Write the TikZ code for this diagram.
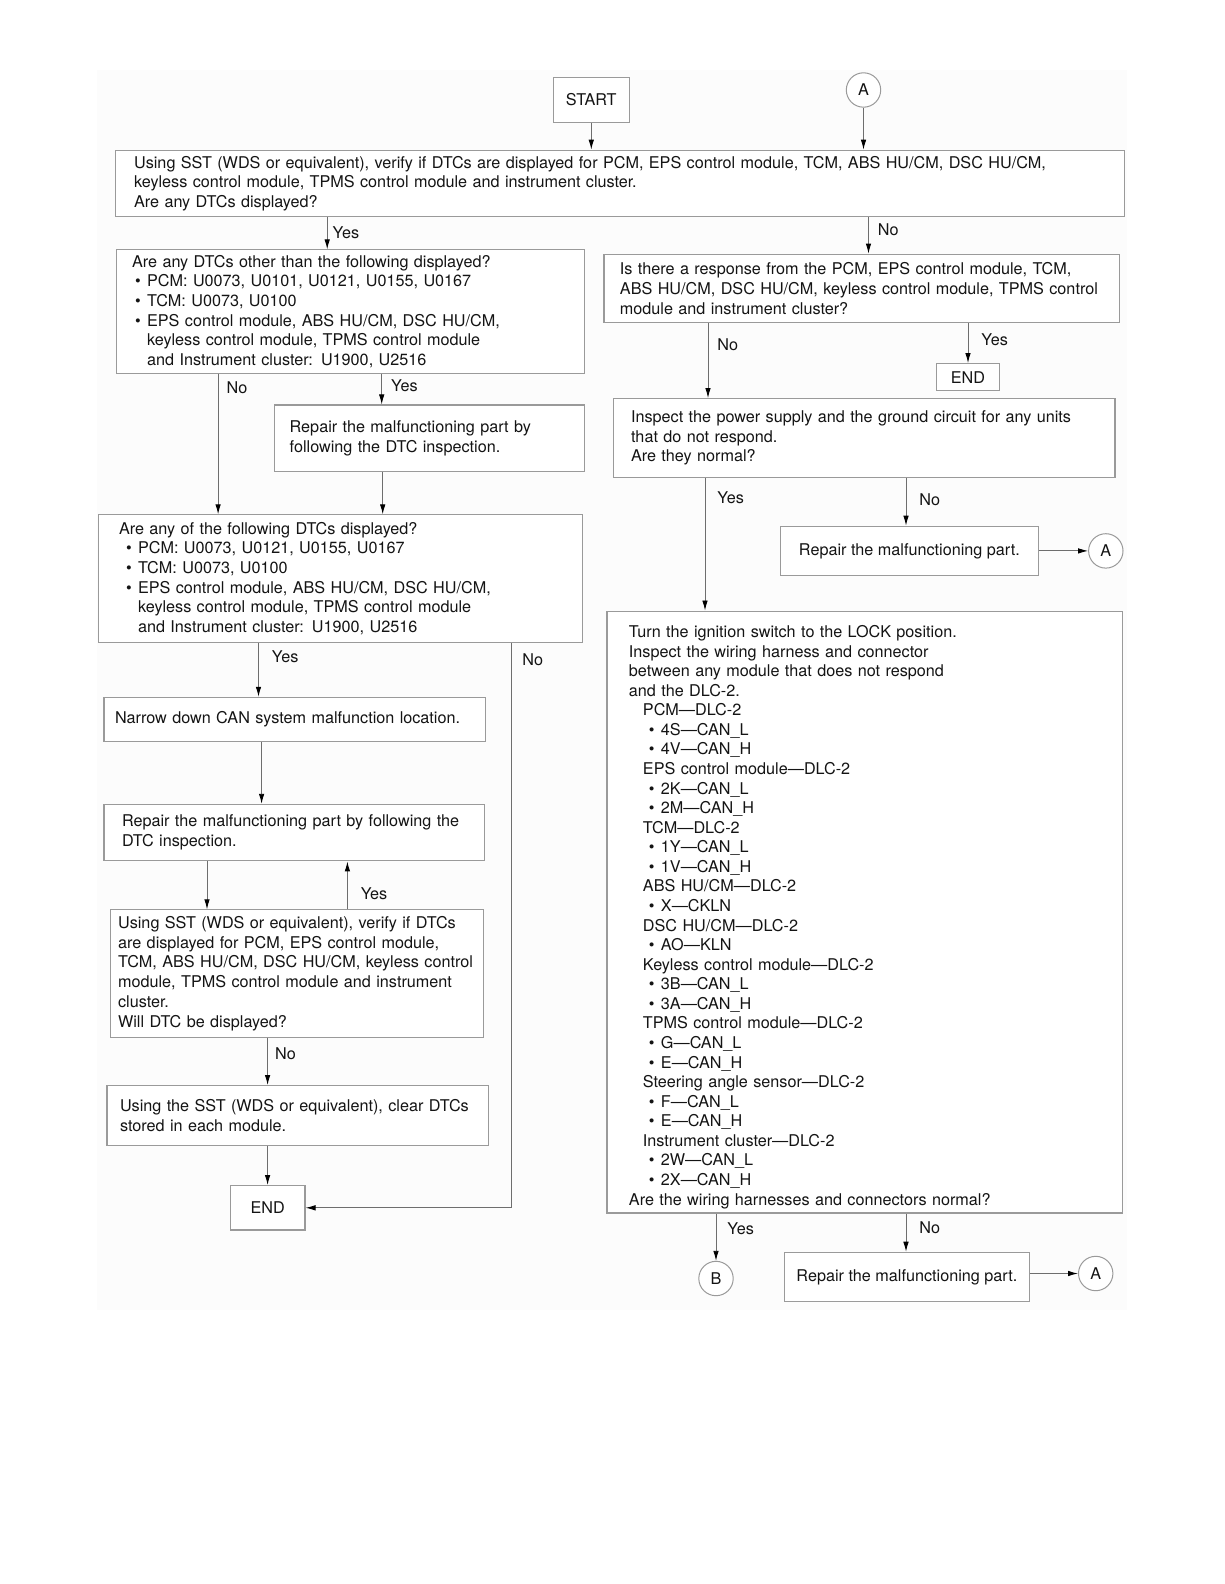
\documentclass[tikz,border=0pt]{standalone}
\usepackage{fontspec}
\setmainfont{TeX Gyre Heros}
\usetikzlibrary{arrows.meta}
\definecolor{PageBg}{HTML}{FCFCFC}
\definecolor{BoxLine}{HTML}{9A9A9A}
\definecolor{Wire}{HTML}{6E6E6E}
\definecolor{Ink}{HTML}{141414}
\newcommand{\itm}{\makebox[12pt][l]{\textbullet}}

\begin{document}
\begin{tikzpicture}[x=1pt,y=-1pt,>={Latex[length=10pt,width=5.5pt,color=black]},
every node/.style={font=\fontsize{16.2}{19.7}\selectfont,text=Ink},
box/.style={draw=BoxLine,line width=1.1pt,fill=white,inner sep=0pt,align=left},
tag/.style={draw=BoxLine,line width=1.1pt,fill=white,inner sep=0pt,align=center},
conn/.style={circle,draw=BoxLine,line width=1pt,fill=white,inner sep=0pt,minimum size=34.4pt},
arr/.style={->,draw=Wire,line width=.9pt},
lbl/.style={anchor=west,inner sep=0pt,xshift=9pt}]
\useasboundingbox(0,0)rectangle(1224,1584);
\fill[PageBg](97,70)rectangle(1127,1310);
% left column
\node[tag,minimum width=76pt,minimum height=44.4pt](start)at(591.3,100){START};
\node[conn](cA)at(863.5,90){A};
\node[box,minimum width=1009pt,minimum height=66.6pt,text width=971pt](qdtc)at(619.6,183.5){Using SST (WDS or equivalent), verify if DTCs are displayed for PCM, EPS control module, TCM, ABS HU/CM, DSC HU/CM,\\keyless control module, TPMS control module and instrument cluster.\\Are any DTCs displayed?};
\node[box,minimum width=468.6pt,minimum height=123.3pt,text width=436.6pt](qother)at(350.4,311.5){Are any DTCs other than the following displayed?\\\hspace*{3pt}\itm PCM: U0073, U0101, U0121, U0155, U0167\\\hspace*{3pt}\itm TCM: U0073, U0100\\\hspace*{3pt}\itm EPS control module, ABS HU/CM, DSC HU/CM,\\\hspace*{15pt}keyless control module, TPMS control module\\\hspace*{15pt}and Instrument cluster: U1900, U2516};
\node[box,minimum width=310pt,minimum height=66.6pt,text width=280pt](rdtc)at(429.7,438.3){Repair the malfunctioning part by\\following the DTC inspection.};
\node[box,minimum width=484.7pt,minimum height=127.3pt,text width=442.7pt](qlist)at(340.4,578.5){Are any of the following DTCs displayed?\\\hspace*{7pt}\itm PCM: U0073, U0121, U0155, U0167\\\hspace*{7pt}\itm TCM: U0073, U0100\\\hspace*{7pt}\itm EPS control module, ABS HU/CM, DSC HU/CM,\\\hspace*{19pt}keyless control module, TPMS control module\\\hspace*{19pt}and Instrument cluster: U1900, U2516};
\node[box,minimum width=381.8pt,minimum height=44.4pt,text width=359.8pt](narrow)at(294.9,719.5){Narrow down CAN system malfunction location.};
\node[box,minimum width=380.8pt,minimum height=56.5pt,text width=344.8pt](rdtc2)at(294.4,832.6){Repair the malfunctioning part by following the\\DTC inspection.};
\node[box,minimum width=373.6pt,minimum height=127.3pt,text width=357.6pt](verify)at(296.9,973.5){Using SST (WDS or equivalent), verify if DTCs\\are displayed for PCM, EPS control module,\\TCM, ABS HU/CM, DSC HU/CM, keyless control\\module, TPMS control module and instrument\\cluster.\\Will DTC be displayed?};
\node[box,minimum width=381.8pt,minimum height=59.6pt,text width=355.8pt](clear)at(297.9,1115.4){Using the SST (WDS or equivalent), clear DTCs\\stored in each module.};
\node[tag,minimum width=74.7pt,minimum height=44.4pt](endL)at(267.6,1207.8){END};
% right column
\node[box,minimum width=515.1pt,minimum height=68.7pt,text width=483.1pt](qresp)at(861.5,288.5){Is there a response from the PCM, EPS control module, TCM,\\ABS HU/CM, DSC HU/CM, keyless control module, TPMS control\\module and instrument cluster?};
\node[tag,minimum width=63.6pt,minimum height=27.3pt](endR)at(968,377.2){END};
\node[box,minimum width=501.9pt,minimum height=78.8pt,text width=465.9pt](power)at(864,438){Inspect the power supply and the ground circuit for any units\\that do not respond.\\Are they normal?};
\node[tag,minimum width=257.5pt,minimum height=49.4pt](rpart)at(909.4,550.9){Repair the malfunctioning part.};
\node[conn](cA2)at(1105.8,550.9){A};
\node[box,minimum width=515.1pt,minimum height=601.9pt,text width=471.1pt,font=\fontsize{16.2}{19.57}\selectfont](wiring)at(864.5,912){\rule{0pt}{22pt}Turn the ignition switch to the LOCK position.\\Inspect the wiring harness and connector\\between any module that does not respond\\and the DLC-2.\\
\hspace*{14pt}PCM—DLC-2\\\hspace*{20pt}\itm 4S—CAN\_L\\\hspace*{20pt}\itm 4V—CAN\_H\\
\hspace*{14pt}EPS control module—DLC-2\\\hspace*{20pt}\itm 2K—CAN\_L\\\hspace*{20pt}\itm 2M—CAN\_H\\
\hspace*{14pt}TCM—DLC-2\\\hspace*{20pt}\itm 1Y—CAN\_L\\\hspace*{20pt}\itm 1V—CAN\_H\\
\hspace*{14pt}ABS HU/CM—DLC-2\\\hspace*{20pt}\itm X—CKLN\\
\hspace*{14pt}DSC HU/CM—DLC-2\\\hspace*{20pt}\itm AO—KLN\\
\hspace*{14pt}Keyless control module—DLC-2\\\hspace*{20pt}\itm 3B—CAN\_L\\\hspace*{20pt}\itm 3A—CAN\_H\\
\hspace*{14pt}TPMS control module—DLC-2\\\hspace*{20pt}\itm G—CAN\_L\\\hspace*{20pt}\itm E—CAN\_H\\
\hspace*{14pt}Steering angle sensor—DLC-2\\\hspace*{20pt}\itm F—CAN\_L\\\hspace*{20pt}\itm E—CAN\_H\\
\hspace*{14pt}Instrument cluster—DLC-2\\\hspace*{20pt}\itm 2W—CAN\_L\\\hspace*{20pt}\itm 2X—CAN\_H\\
Are the wiring harnesses and connectors normal?};
\node[conn](cB)at(716,1278.5){B};
\node[tag,minimum width=244.4pt,minimum height=49.5pt](rpart2)at(906.9,1277){Repair the malfunctioning part.};
\node[conn](cA3)at(1095.7,1273.5){A};
% connectors
\draw[arr](start)--(start|-qdtc.north);\draw[arr](cA)--(cA|-qdtc.north);
\draw[arr](qdtc.south-|327.2,0)--node[lbl,pos=.48,xshift=-4pt](y1){Yes}(qother.north-|327.2,0);
\draw[arr](qdtc.south-|868.5,0)--node[lbl,pos=.34](n1){No}(qresp.north-|868.5,0);
\draw[arr](qother.south-|218.1,0)--node[lbl,pos=.1,xshift=-1pt](n2){No}(qlist.north-|218.1,0);
\draw[arr](qother.south-|381.7,0)--node[lbl,pos=.38](y2){Yes}(rdtc.north-|381.7,0);
\draw[arr](rdtc.south-|382.7,0)--(qlist.north-|382.7,0);
\draw[arr](qlist.south-|258.5,0)--node[lbl,pos=.26,xshift=4pt](y3){Yes}(narrow.north-|258.5,0);
\draw[arr](qlist.south-|511,0)|-node[lbl,pos=.015,xshift=2pt](n3){No}(endL.east);
\draw[arr](narrow.south-|261.6,0)--(rdtc2.north-|261.6,0);
\draw[arr](rdtc2.south-|207,0)--(verify.north-|207,0);
\draw[arr](verify.north-|347.4,0)--node[lbl,pos=.33,xshift=4pt](y4){Yes}(rdtc2.south-|347.4,0);
\draw[arr](verify.south-|267.6,0)--node[lbl,pos=.34,xshift=-2pt](n4){No}(clear.north-|267.6,0);
\draw[arr](clear.south-|endL)--(endL);
\draw[arr](qresp.south-|708,0)--node[lbl,pos=.29](n5){No}(power.north-|708,0);
\draw[arr](qresp.south-|endR)--node[lbl,pos=.41,xshift=4pt](y5){Yes}(endR);
\draw[arr](power.south-|705,0)--node[lbl,pos=.15,xshift=3pt](y6){Yes}(wiring.north-|705,0);
\draw[arr](power.south-|906,0)--node[lbl,pos=.45,xshift=4pt](n6){No}(rpart.north-|906,0);
\draw[arr](rpart.east)--(cA2);
\draw[arr](wiring.south-|cB)--node[lbl,pos=.33,xshift=2pt](y7){Yes}(cB);
\draw[arr](wiring.south-|906,0)--node[lbl,pos=.36,xshift=4pt](n7){No}(rpart2.north-|906,0);
\draw[arr](cA3-|rpart2.east)--(cA3);
\end{tikzpicture}
\end{document}
